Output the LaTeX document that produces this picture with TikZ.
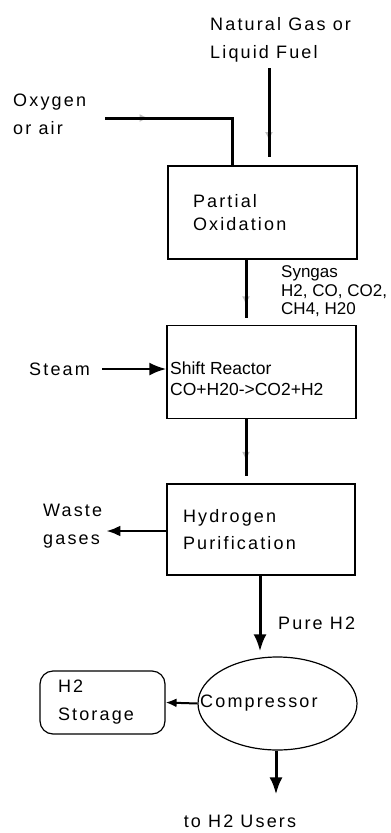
\documentclass[tikz,border=0pt]{standalone}
\usepackage{fontspec}
\setmainfont{Liberation Sans}
\newfontfamily\widefont{Liberation Sans}[LetterSpace=12]
\usetikzlibrary{arrows.meta,decorations.markings,shapes.geometric}

\begin{document}
\begin{tikzpicture}[x=1pt,y=-1pt,
 box/.style={draw,line width=1.3pt,minimum width=189pt,minimum height=93pt,inner sep=0pt,align=left,font=\widefont\fontsize{18}{27}\selectfont},
 lbl/.style={inner sep=0pt,align=left,font=\widefont\fontsize{18}{28}\selectfont},
 note/.style={inner sep=0pt,align=left,font=\fontsize{17.5}{21}\selectfont},
 pipe/.style={line width=3pt},
 arr/.style={pipe,-{Latex[length=17pt,width=13pt]}},
 faint/.style={preaction={decorate,decoration={markings,mark=at position #1 with {\arrow{Latex[length=9pt,width=8pt,color=black!25]}}}}}]
\useasboundingbox (0,0) rectangle (391,833);
% process units
\node[box,text width=139pt] (po) at (262.5,212.5) {Partial\\[-4pt]Oxidation};
\node[box] (sr) at (261.5,372) {};
\node[note,anchor=west] (srtxt) at (170,379) {Shift Reactor\\CO+H20->CO2+H2};
\node[box,minimum width=188pt,minimum height=91pt,text width=156pt] (hp) at (261,529.5) {Hydrogen\\Purification};
\node[draw,line width=1.2pt,ellipse,minimum width=159pt,minimum height=93pt,inner sep=0pt] (comp) at (277.5,703.5) {};
\node[lbl,anchor=west] (comptxt) at (200,703) {Compressor};
\node[draw,line width=1.2pt,rounded corners=13pt,minimum width=125pt,minimum height=63pt,text width=89pt,inner sep=0pt,align=left,font=\widefont\fontsize{18}{28}\selectfont] (store) at (102.5,702.5) {H2\\Storage};
% streams
\node[lbl,anchor=west] (fuel) at (210,40) {Natural Gas or\\Liquid Fuel};
\node[lbl,anchor=west] (oxy) at (13,114) {Oxygen\\or air};
\node[lbl,anchor=west] (steam) at (29,369) {Steam};
\node[note,anchor=west,font=\fontsize{17}{18.5}\selectfont] (syn) at (281,291.5) {Syngas\\H2, CO, CO2,\\CH4, H20};
\node[lbl,anchor=west] (waste) at (43,526.5) {Waste\\gases};
\node[lbl,anchor=west] (pure) at (278,623) {Pure H2};
\node[lbl] (users) at (240,821) {to H2 Users};
\coordinate (oxin) at (105,118);
\coordinate (fuelin) at (269,68);
\draw[pipe,faint=0.25] (oxin) -| ([xshift=-30.5pt]po.north);
\draw[pipe,faint=0.75,shorten >=8pt] (fuelin) -- (fuelin |- po.north);
\draw[pipe,faint=0.7,shorten >=7pt] ([xshift=-16.5pt]po.south) -- ([xshift=-15.5pt]sr.north);
\draw[pipe,faint=0.65,shorten >=7pt] ([xshift=-15.5pt]sr.south) -- ([xshift=-15pt]hp.north);
\draw[arr,line width=2.5pt,shorten <=12pt] (steam.east) -- (steam.east -| sr.west);
\draw[arr,line width=2.5pt,-{Latex[length=14pt,width=11pt]},shorten >=4pt] ([yshift=-1.5pt]hp.west) -- ([yshift=-1.5pt]hp.west -| waste.east);
\draw[arr,shorten >=5pt] ([xshift=-1pt]hp.south) -- ([xshift=-1pt]hp.south |- comp.north);
\draw[pipe,line width=2pt,-{Latex[length=11pt,width=9pt]}] (comp.west) -- (store.east);
\draw[arr,shorten >=20pt] ([xshift=-1.5pt]comp.south) -- ([xshift=-1.5pt]comp.south |- users.north);
\end{tikzpicture}
\end{document}
